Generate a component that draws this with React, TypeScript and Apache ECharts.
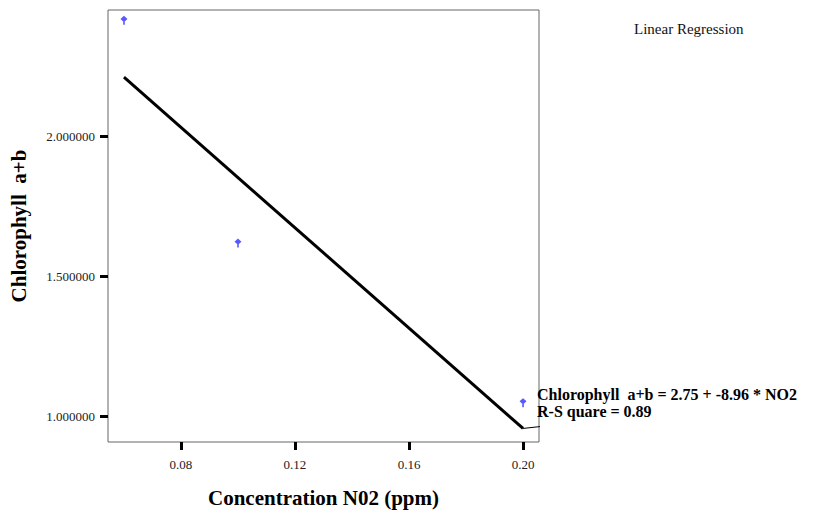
import React, { useEffect, useRef } from "react";
import * as echarts from "echarts";

const points: [number, number][] = [
  [0.06, 2.415],
  [0.10, 1.62],
  [0.20, 1.05],
];
const fitLine: [number, number][] = [
  [0.06, 2.212],
  [0.20, 0.958],
];
const leader: [number, number][] = [
  [0.20, 0.958],
  [0.2072, 0.966],
];
const xTicks = [0.08, 0.12, 0.16, 0.2];
const yTicks = [1.0, 1.5, 2.0];
const equationText = "Chlorophyll  a+b = 2.75 + -8.96 * NO2";
const rSquareText = "R-S quare = 0.89";
const titleText = "Linear Regression";
const xTitle = "Concentration N02 (ppm)";
const yTitle = "Chlorophyll  a+b";

const SERIF = "'Liberation Serif', 'DejaVu Serif', serif";

export default function App() {
  const ref = useRef<HTMLDivElement>(null);
  useEffect(() => {
    if (!ref.current) return;
    const chart = echarts.init(ref.current, undefined, { renderer: "svg" });
    chart.setOption({
      animation: false,
      backgroundColor: "#ffffff",
      textStyle: { fontFamily: SERIF },
      grid: {
        left: 108,
        top: 10,
        right: 280,
        bottom: 71,
        show: true,
        borderColor: "#666666",
        borderWidth: 1,
        containLabel: false,
      },
      xAxis: {
        type: "value",
        min: 0.0544,
        max: 0.2056,
        splitLine: { show: false },
        axisLine: { show: false },
        axisTick: {
          show: true,
          customValues: xTicks,
          length: 8,
          lineStyle: { color: "#000", width: 3 },
        },
        axisLabel: {
          customValues: xTicks,
          formatter: (v: number) => v.toFixed(2),
          margin: 16,
          fontSize: 13,
          color: "#222",
          fontFamily: SERIF,
        },
        name: xTitle,
        nameLocation: "middle",
        nameGap: 45,
        nameTextStyle: { fontSize: 21, fontWeight: "bold", color: "#000", fontFamily: SERIF },
      },
      yAxis: {
        type: "value",
        min: 0.9096,
        max: 2.452,
        splitLine: { show: false },
        axisLine: { show: false },
        axisTick: {
          show: true,
          customValues: yTicks,
          length: 8,
          lineStyle: { color: "#000", width: 3 },
        },
        axisLabel: {
          customValues: yTicks,
          formatter: (v: number) => v.toFixed(6),
          margin: 13,
          fontSize: 13,
          color: "#222",
          fontFamily: SERIF,
        },
        name: yTitle,
        nameLocation: "middle",
        nameGap: 79,
        nameTextStyle: { fontSize: 21, fontWeight: "bold", color: "#000", fontFamily: SERIF },
      },
      series: [
        {
          type: "line",
          data: fitLine,
          symbol: "none",
          lineStyle: { color: "#000", width: 3 },
          z: 2,
        },
        {
          type: "line",
          data: leader,
          symbol: "none",
          clip: false,
          lineStyle: { color: "#000", width: 1 },
          z: 2,
        },
        {
          type: "scatter",
          data: points,
          symbol: "path://M3.5,0 L7,3.5 L3.5,7 L0,3.5 Z M2.7,5 L4.3,5 L4.3,10 L2.7,10 Z",
          symbolSize: [7, 9],
          itemStyle: { color: "#2f2fff" },
          z: 3,
        },
      ],
      graphic: [
        {
          type: "text",
          left: 634,
          top: 21,
          style: { text: titleText, fontSize: 15, fontFamily: SERIF, fill: "#111" },
        },
        {
          type: "text",
          left: 537,
          top: 386,
          style: {
            text: equationText + "\n" + rSquareText,
            fontSize: 16,
            fontWeight: "bold",
            fontFamily: SERIF,
            fill: "#000",
            lineHeight: 17,
          },
        },
      ],
    });
    return () => chart.dispose();
  }, []);
  return (
    <div
      ref={ref}
      style={{ position: "fixed", left: 0, top: 0, width: 819, height: 513 }}
    />
  );
}
